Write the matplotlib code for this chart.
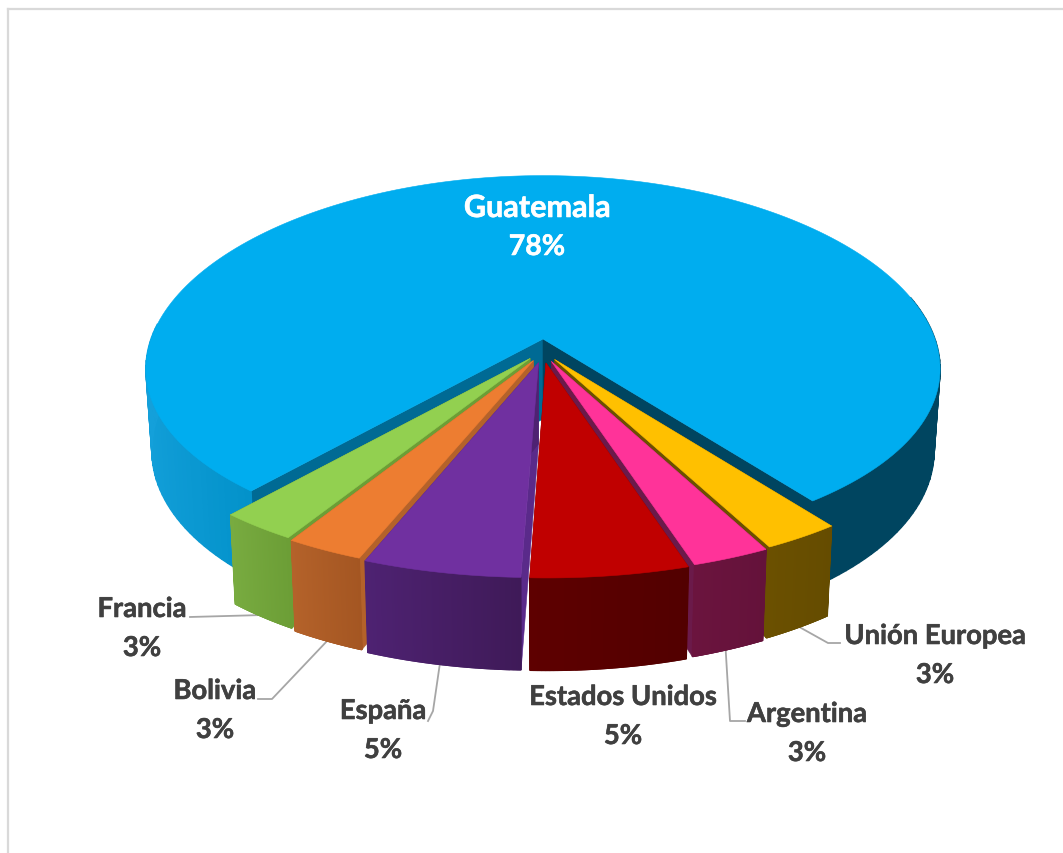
import numpy as np
import matplotlib
matplotlib.use("Agg")
import matplotlib.pyplot as plt
import matplotlib.patheffects as pe

# datos del grafico (las etiquetas salen redondeadas)
paises = ["Guatemala", "Unión Europea", "Argentina", "Estados Unidos", "España", "Bolivia", "Francia"]
valores = [78.4, 2.7, 2.7, 5.4, 5.4, 2.7, 2.7]

# colores: tapa, pared izquierda, pared derecha, cortes
color_tapa = ["#00ADEF", "#FFC000", "#FF3399", "#C00000", "#7030A0", "#ED7D31", "#92D050"]
color_pared_a = ["#14A0DA", "#6B5000", "#6B143E", "#5E0000", "#4E2272", "#B4622A", "#78AB40"]
color_pared_b = ["#004560", "#654C00", "#64123A", "#520000", "#3F1A58", "#A45622", "#6C9E36"]
color_corte_1 = ["#006A94", "#6B5000", "#6B143E", "#7A0000", "#5A2A8A", "#B4622A", "#6C9E36"]
color_corte_2 = ["#004560", "#6B5000", "#6B1A4A", "#7A0000", "#4E2272", "#B4622A", "#6C9E36"]

# geometria de la proyeccion, en pixeles
cx, cy = 543, 340
rx, ry = 392, 183
kx, ky = 0.16, 0.12
alto = 80
inicio = 220.9
sep_x, sep_y = 0.055, 0.13


def proyectar(x, y, z=0.0):
    y = np.asarray(y)
    esc = 1 - 0.015 * z
    sy = 1 / (1 - ky * y)
    return cx + rx * np.asarray(x) / (1 - kx * y) * esc, cy + ry * y * sy + alto * z * sy


def mezcla(a, b, f):
    a = np.array(matplotlib.colors.to_rgb(a))
    b = np.array(matplotlib.colors.to_rgb(b))
    return a + (b - a) * f


def dibujar(ax, i, t1, t2, z):
    medio = np.radians((t1 + t2) / 2)
    if i == 0:
        ox, oy = 0, 0
    else:
        ox, oy = sep_x * np.sin(medio), -sep_y * np.cos(medio)
    t = np.radians(np.linspace(t1, t2, 200))
    x = ox + np.sin(t)
    y = oy - np.cos(t)

    # caras del corte, hacia el centro
    for xe, ye, col in [(x[0], y[0], color_corte_1[i]), (x[-1], y[-1], color_corte_2[i])]:
        sx, sy = proyectar([ox, xe, xe, ox], [oy, ye, ye, oy], np.array([0, 0, 1, 1]))
        ax.fill(sx, sy, color=col, lw=0.4, zorder=z)

    # pared exterior por tiras para el degradado
    if i == 0:
        partes = [(0, 38), (150, 199)]
    else:
        partes = [(0, 199)]
    for p0, p1 in partes:
        for j in range(p0, p1):
            if y[j] < -0.25:
                continue
            px = [x[j], x[j + 1], x[j + 1], x[j]]
            py = [y[j], y[j + 1], y[j + 1], y[j]]
            sx, sy = proyectar(px, py, np.array([0, 0, 1, 1]))
            if i == 0:
                if x[j] < 0:
                    col = mezcla("#0090C8", color_pared_a[0], np.clip(-x[j] - 0.6, 0, 0.4) / 0.4)
                else:
                    col = color_pared_b[0]
            else:
                col = mezcla(color_pared_b[i], color_pared_a[i], j / 198)
            ax.fill(sx, sy, color=col, lw=1.0, zorder=z + 0.1)

    # tapa
    sx, sy = proyectar(np.r_[ox, x], np.r_[oy, y])
    ax.fill(sx, sy, color=color_tapa[i], lw=0.4, zorder=z + 0.2)


fig = plt.figure(figsize=(10.63, 8.54), dpi=100)
ax = fig.add_axes([0, 0, 1, 1])
ax.set_xlim(0, 1063)
ax.set_ylim(854, 0)
ax.axis("off")

# marco
ax.plot([8, 8], [854, 10], color="#D9D9D9", lw=1.6, zorder=0)
ax.plot([8, 1063], [10, 10], color="#D9D9D9", lw=1.6, zorder=0)

# angulos a partir de los valores
total = sum(valores)
angulos = [v / total * 360 for v in valores]
tramos = []
a = inicio
for v in angulos:
    tramos.append((a, a + v))
    a += v

# primero Guatemala y luego del borde hacia el frente
orden = [0, 6, 1, 5, 2, 4, 3]
for n, i in enumerate(orden):
    dibujar(ax, i, tramos[i][0], tramos[i][1], 1 + n)

# lineas guia, por debajo de las porciones
guias = [
    ([190, 263], [618, 616]),
    ([258, 272, 328], [700, 700, 641]),
    ([442, 433, 428], [650, 712, 722]),
    ([725, 730, 745], [640, 722, 722]),
    ([785, 828, 840], [620, 644, 644]),
]
for gx, gy in guias:
    ax.plot(gx, gy, color="#A6A6A6", lw=1.3, zorder=0.5)

# etiquetas
pos_etq = {
    "Guatemala": (537, 209),
    "Unión Europea": (935, 637),
    "Argentina": (807, 715),
    "Estados Unidos": (623, 698),
    "España": (383, 712),
    "Bolivia": (215, 692),
    "Francia": (142, 610),
}
for nombre, v in zip(paises, valores):
    px, py = pos_etq[nombre]
    col = "white" if nombre == "Guatemala" else "#404040"
    tam = 22 if nombre == "Guatemala" else 19.7
    for txt, dy, t_txt in [(nombre, 0, tam), (f"{round(v)}%", 39, min(tam, 20.5))]:
        ax.text(px, py + dy, txt, ha="center", va="center", color=col, fontsize=t_txt,
                fontweight="bold", family=["Lato", "DejaVu Sans"], zorder=30,
                path_effects=[pe.withStroke(linewidth=0.4, foreground=col)])

fig.savefig("out.png", dpi=100)
